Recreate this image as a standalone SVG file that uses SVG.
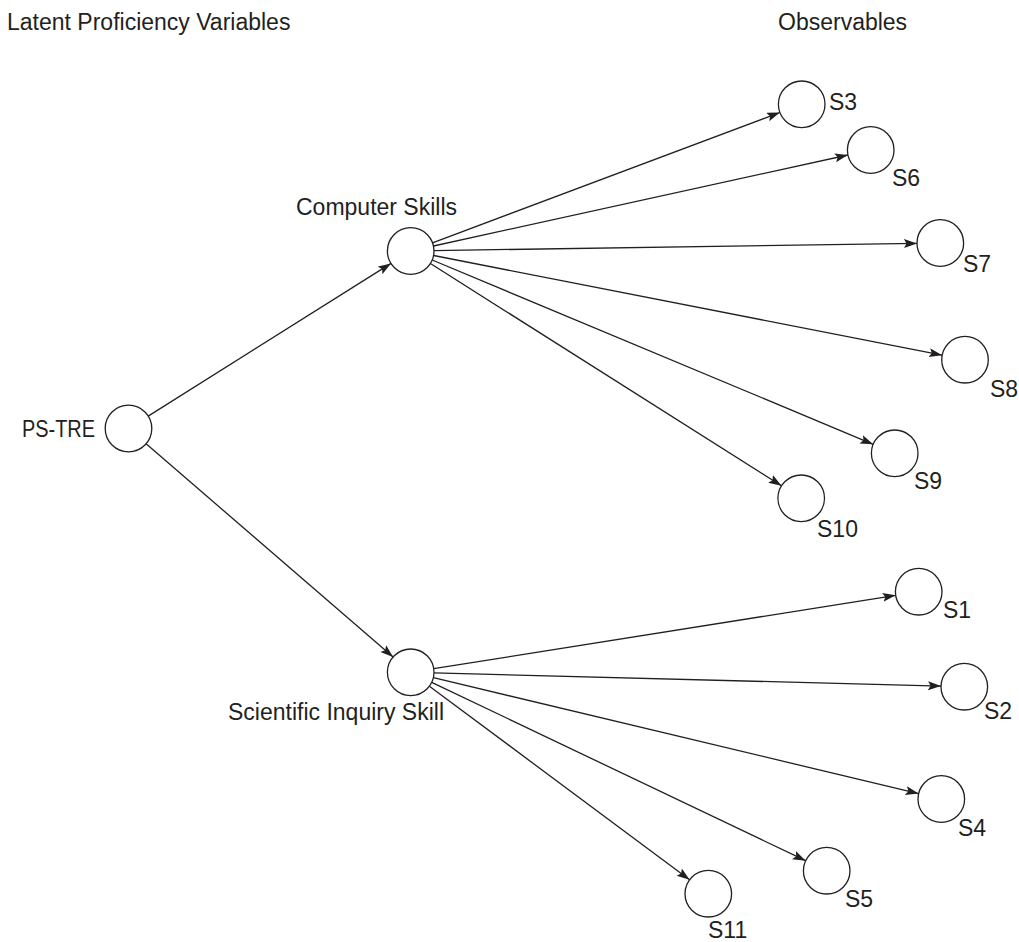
<svg xmlns="http://www.w3.org/2000/svg" width="1019" height="942" viewBox="0 0 1019 942">
<style>
text{font-family:"Liberation Sans",Arial,sans-serif;font-size:23px;fill:#231f20}
circle.n{fill:#fff;stroke:#231f20;stroke-width:1.3}
#edges line{stroke:#231f20;stroke-width:1.3;marker-end:url(#ah)}
</style>
<defs>
<marker id="ah" markerUnits="userSpaceOnUse" markerWidth="14" markerHeight="10" refX="13" refY="4.5" orient="auto">
<path d="M0,0 L13,4.5 L0,9 L2.5,4.5 z" fill="#231f20"/>
</marker>
</defs>
<rect width="1019" height="942" fill="#fff"/>
<text x="7" y="30">Latent Proficiency Variables</text>
<text x="778" y="30">Observables</text>
<g id="edges">
<line x1="148.2" y1="416.1" x2="391.0" y2="263.4"/>
<line x1="146.1" y1="443.7" x2="393.1" y2="657.1"/>
<line x1="432.5" y1="242.8" x2="779.9" y2="112.5"/>
<line x1="433.5" y1="246.0" x2="847.9" y2="155.0"/>
<line x1="434.0" y1="250.6" x2="917.0" y2="243.4"/>
<line x1="433.6" y1="255.5" x2="942.1" y2="355.2"/>
<line x1="432.2" y1="260.0" x2="873.2" y2="444.3"/>
<line x1="430.4" y1="263.5" x2="781.5" y2="485.8"/>
<line x1="433.7" y1="668.7" x2="895.7" y2="595.3"/>
<line x1="434.0" y1="672.9" x2="941.0" y2="686.1"/>
<line x1="433.4" y1="677.7" x2="918.6" y2="793.6"/>
<line x1="431.7" y1="682.3" x2="805.7" y2="860.7"/>
<line x1="429.4" y1="686.2" x2="689.6" y2="879.8"/>
</g>
<g id="ps-tre"><circle class="n" cx="128.5" cy="428.5" r="23.3"/><text x="22" y="437" textLength="73" lengthAdjust="spacingAndGlyphs">PS-TRE</text></g>
<g id="computer-skills"><circle class="n" cx="410.7" cy="251" r="23.3"/><text x="296" y="215">Computer Skills</text></g>
<g id="scientific-inquiry"><circle class="n" cx="410.7" cy="672.3" r="23.3"/><text x="228" y="720">Scientific Inquiry Skill</text></g>
<g id="s3"><circle class="n" cx="801.7" cy="104.3" r="23.3"/><text x="829" y="110">S3</text></g>
<g id="s6"><circle class="n" cx="870.7" cy="150" r="23.3"/><text x="892" y="186">S6</text></g>
<g id="s7"><circle class="n" cx="940.3" cy="243" r="23.3"/><text x="963" y="272">S7</text></g>
<g id="s8"><circle class="n" cx="965" cy="359.7" r="23.3"/><text x="990" y="397">S8</text></g>
<g id="s9"><circle class="n" cx="894.7" cy="453.3" r="23.3"/><text x="914" y="489">S9</text></g>
<g id="s10"><circle class="n" cx="801.2" cy="498.3" r="23.3"/><text x="817" y="537">S10</text></g>
<g id="s1"><circle class="n" cx="918.7" cy="591.7" r="23.3"/><text x="943" y="618">S1</text></g>
<g id="s2"><circle class="n" cx="964.3" cy="686.7" r="23.3"/><text x="984" y="719">S2</text></g>
<g id="s4"><circle class="n" cx="941.3" cy="799" r="23.3"/><text x="958" y="836">S4</text></g>
<g id="s5"><circle class="n" cx="826.7" cy="870.7" r="23.3"/><text x="845" y="907">S5</text></g>
<g id="s11"><circle class="n" cx="708.3" cy="893.7" r="23.3"/><text x="708" y="938">S11</text></g>
</svg>
